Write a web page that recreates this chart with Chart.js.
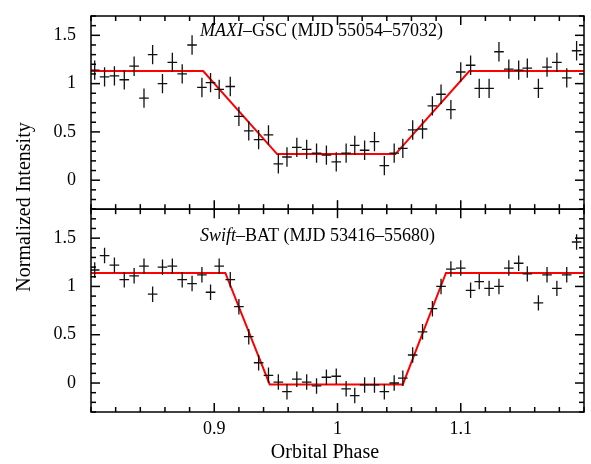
<!DOCTYPE html>
<html>
  <head>
    <script src="https://cdn.jsdelivr.net/npm/chart.js@4"></script>
    <style>
      body { margin: 0; background: #fff; }
    </style>
  </head>

  <body>
    <canvas id="canvas" width="591" height="464"></canvas>
    <script>
      // bin centres (orbital phase), shared by both panels
      const phase = [
        0.803, 0.811, 0.819, 0.827, 0.835, 0.843, 0.850, 0.858, 0.866, 0.874,
        0.882, 0.890, 0.897, 0.904, 0.913, 0.920, 0.928, 0.936, 0.944, 0.952,
        0.959, 0.967, 0.975, 0.983, 0.991, 0.999, 1.007, 1.014, 1.022, 1.030,
        1.038, 1.046, 1.053, 1.061, 1.069, 1.077, 1.084, 1.092, 1.100, 1.108,
        1.115, 1.123, 1.131, 1.139, 1.147, 1.154, 1.163, 1.170, 1.178, 1.186,
        1.194,
      ];
      const maxi = [
        1.14, 1.07, 1.08, 1.04, 1.18, 0.85, 1.30, 1.00, 1.22, 1.10,
        1.40, 0.96, 1.01, 0.94, 0.97, 0.66, 0.51, 0.42, 0.47, 0.17,
        0.24, 0.34, 0.32, 0.28, 0.26, 0.19, 0.28, 0.36, 0.31, 0.40,
        0.15, 0.28, 0.33, 0.52, 0.53, 0.77, 0.89, 0.73, 1.12, 1.19,
        0.95, 0.95, 1.33, 1.15, 1.14, 1.16, 0.95, 1.17, 1.22, 1.06,
        1.34,
      ];
      const bat = [
        1.17, 1.32, 1.22, 1.07, 1.11, 1.21, 0.92, 1.20, 1.21, 1.07,
        1.03, 1.12, 0.94, 1.21, 1.07, 0.79, 0.48, 0.21, 0.08, 0.01,
        -0.09, 0.04, 0.01, -0.03, 0.06, 0.07, -0.06, -0.13, -0.02, -0.02,
        -0.09, 0.00, 0.05, 0.29, 0.53, 0.77, 1.00, 1.18, 1.19, 0.96,
        1.05, 0.98, 1.00, 1.19, 1.24, 1.13, 0.83, 1.12, 0.98, 1.12,
        1.46,
      ];
      const maxiErr = 0.1;
      const batErr = 0.08;
      const phaseErr = 0.0039;

      // trapezoid eclipse models
      const maxiModelX = [0.8, 0.891, 0.951, 1.047, 1.107, 1.2];
      const maxiModelY = [1.13, 1.13, 0.27, 0.27, 1.13, 1.13];
      const batModelX = [0.8, 0.909, 0.945, 1.053, 1.088, 1.2];
      const batModelY = [1.14, 1.14, -0.015, -0.015, 1.14, 1.14];

      const xLabels = { 90: '0.9', 100: '1', 110: '1.1' };
      const yLabels = { 0: '0', 5: '0.5', 10: '1', 15: '1.5' };

      const serif = '"Liberation Serif", "Times New Roman", serif';

      const pts = (xs, ys) => xs.map((x, i) => ({ x: x, y: ys[i] }));

      const isMajorX = (v) => xLabels[Math.round(v * 100)] !== undefined;
      const isMajorY = (v) => Math.abs(v * 2 - Math.round(v * 2)) < 1e-6;

      const crosses = {
        id: 'crosses',
        afterDatasetsDraw(chart) {
          const { ctx, chartArea: a, scales } = chart;
          ctx.save();
          ctx.beginPath();
          ctx.rect(a.left, a.top, a.right - a.left, a.bottom - a.top);
          ctx.clip();
          ctx.strokeStyle = '#111';
          ctx.lineWidth = 1.3;
          chart.data.datasets.forEach((ds) => {
            if (!ds.err) return;
            const ys = scales[ds.yAxisID];
            ds.data.forEach((p) => {
              const x0 = scales.x.getPixelForValue(p.x - phaseErr);
              const x1 = scales.x.getPixelForValue(p.x + phaseErr);
              const xc = scales.x.getPixelForValue(p.x);
              const y0 = ys.getPixelForValue(p.y - ds.err);
              const y1 = ys.getPixelForValue(p.y + ds.err);
              const yc = ys.getPixelForValue(p.y);
              ctx.beginPath();
              ctx.moveTo(x0, yc);
              ctx.lineTo(x1, yc);
              ctx.moveTo(xc, y0);
              ctx.lineTo(xc, y1);
              ctx.stroke();
            });
          });
          ctx.restore();
        },
        afterDraw(chart) {
          const { ctx, chartArea: a, scales } = chart;
          ctx.save();
          ctx.strokeStyle = '#000';
          ctx.lineWidth = 1.5;
          const seg = (x0, y0, x1, y1) => {
            ctx.beginPath();
            ctx.moveTo(x0, y0);
            ctx.lineTo(x1, y1);
            ctx.stroke();
          };
          ['y1', 'y2'].forEach((id) => {
            const s = scales[id];
            ctx.strokeRect(a.left, s.top, a.right - a.left, s.bottom - s.top);
            s.ticks.forEach((t) => {
              const p = s.getPixelForValue(t.value);
              const len = isMajorY(t.value) ? 9 : 5;
              seg(a.left, p, a.left + len, p);
              seg(a.right, p, a.right - len, p);
            });
            scales.x.ticks.forEach((t) => {
              const p = scales.x.getPixelForValue(t.value);
              const len = isMajorX(t.value) ? 9 : 5;
              seg(p, s.top, p, s.top + len);
              seg(p, s.bottom, p, s.bottom - len);
            });
          });

          // panel labels
          ctx.fillStyle = '#000';
          ctx.textBaseline = 'alphabetic';
          ctx.textAlign = 'left';
          const label = (it, rest, x, y) => {
            ctx.font = 'italic 18px ' + serif;
            ctx.fillText(it, x, y);
            const w = ctx.measureText(it).width;
            ctx.font = '18px ' + serif;
            ctx.fillText(rest, x + w, y);
          };
          label('MAXI', '\u2013GSC (MJD 55054\u201357032)', 200, 36);
          label('Swift', '\u2013BAT (MJD 53416\u201355680)', 200, 241);

          // axis titles
          ctx.font = '20px ' + serif;
          ctx.textAlign = 'center';
          ctx.fillText('Orbital Phase', 325, 458);
          ctx.translate(25, 207);
          ctx.rotate(-Math.PI / 2);
          ctx.textBaseline = 'middle';
          ctx.fillText('Normalized Intensity', 0, 0);
          ctx.restore();
        },
      };

      const yAxis = (min, max, weight) => ({
        type: 'linear',
        position: 'left',
        stack: 'panels',
        stackWeight: weight,
        min: min,
        max: max,
        grid: { display: false, drawTicks: false },
        border: { display: false },
        ticks: {
          stepSize: 0.1,
          autoSkip: false,
          padding: 15,
          color: '#000',
          font: { family: serif, size: 18 },
          callback: (v) => yLabels[Math.round(v * 10)] || '',
        },
        afterFit: (s) => {
          s.width = 91;
          s.paddingTop = 0;
          s.paddingBottom = 0;
        },
      });

      new Chart(document.getElementById('canvas').getContext('2d'), {
        type: 'scatter',
        data: {
          datasets: [
            {
              label: 'Swift-BAT',
              data: pts(phase, bat),
              err: batErr,
              yAxisID: 'y2',
              pointRadius: 0,
            },
            {
              label: 'BAT model',
              type: 'line',
              data: pts(batModelX, batModelY),
              yAxisID: 'y2',
              borderColor: '#ff0000',
              borderWidth: 2,
              pointRadius: 0,
              fill: false,
            },
            {
              label: 'MAXI-GSC',
              data: pts(phase, maxi),
              err: maxiErr,
              yAxisID: 'y1',
              pointRadius: 0,
            },
            {
              label: 'GSC model',
              type: 'line',
              data: pts(maxiModelX, maxiModelY),
              yAxisID: 'y1',
              borderColor: '#ff0000',
              borderWidth: 2,
              pointRadius: 0,
              fill: false,
            },
          ],
        },
        options: {
          responsive: false,
          animation: false,
          layout: { padding: { top: 16, right: 7, left: 0, bottom: 0 } },
          plugins: {
            legend: { display: false },
            tooltip: { enabled: false },
          },
          scales: {
            x: {
              type: 'linear',
              min: 0.8,
              max: 1.2,
              grid: { display: false, drawTicks: false },
              border: { display: false },
              ticks: {
                stepSize: 0.02,
                autoSkip: false,
                maxRotation: 0,
                padding: 6,
                color: '#000',
                font: { family: serif, size: 18 },
                callback: (v) => xLabels[Math.round(v * 100)] || '',
              },
              afterFit: (s) => {
                s.height = 52;
                s.paddingLeft = 0;
                s.paddingRight = 0;
              },
            },
            y2: yAxis(-0.3, 1.8, 2.1),
            y1: yAxis(-0.3, 1.7, 2.0),
          },
        },
        plugins: [crosses],
      });
    </script>
  </body>
</html>
